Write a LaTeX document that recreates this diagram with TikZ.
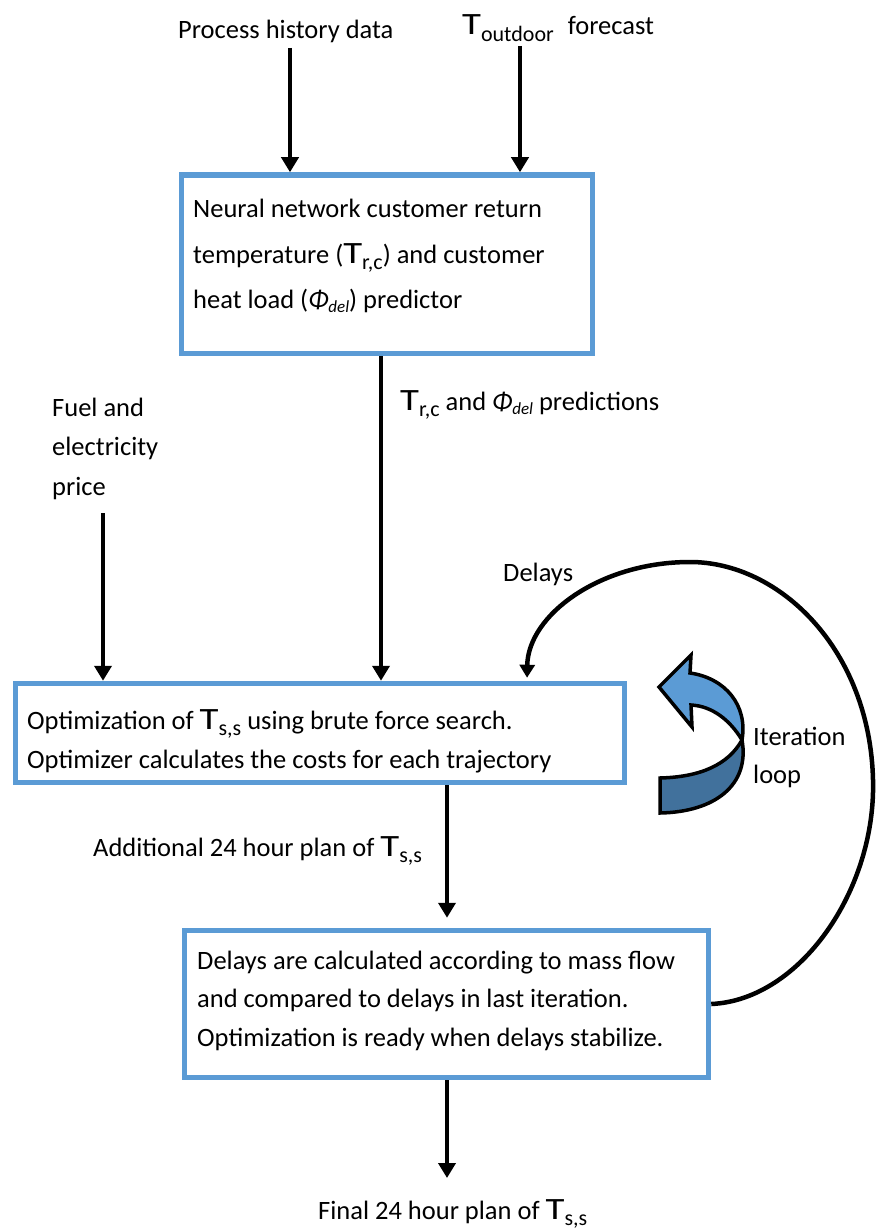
\documentclass[tikz,border=0pt]{standalone}
\usepackage{fontspec}
\setmainfont{Carlito}
\usepackage{graphicx}
\usetikzlibrary{arrows.meta}
\definecolor{boxblue}{HTML}{5B9BD5}
\definecolor{loopdark}{HTML}{41719C}
\newcommand{\bigT}{{\fontsize{31}{31}\selectfont\scalebox{1.25}[1]{T}}}
\newcommand{\TS}[1]{\bigT\raisebox{-6.5pt}{\fontsize{22}{22}\selectfont #1}}
\newcommand{\Phidel}{\textit{Φ}\raisebox{-4pt}{\fontsize{17}{17}\selectfont\textit{del}}}
\begin{document}
\begin{tikzpicture}[x=1pt,y=-1pt,
  font=\fontsize{26.5}{38}\selectfont,
  box/.style={draw=boxblue, line width=5.5pt, inner sep=0pt},
  txt/.style={inner sep=0pt, anchor=base west, align=flush left},
  arr/.style={line width=4.5pt, -{Triangle[width=17pt,length=15pt]}},
  curvearr/.style={line width=4.5pt, -{Triangle[width=15pt,length=13pt]}},
  loopshape/.style={draw=black, line width=3.5pt, line join=miter}]
\fill[white] (0,0) rectangle (875,1230);
\useasboundingbox (0,0) rectangle (875,1230);

% boxes
\node[box, minimum width=411pt, minimum height=178.5pt] (nnbox) at (387,264.25) {};
\node[box, minimum width=609pt, minimum height=99pt] (optbox) at (320,733) {};
\node[box, minimum width=524pt, minimum height=147pt] (delbox) at (446.5,1004) {};

% box texts
\node[txt, text width=390pt, font=\fontsize{26.5}{45.5}\selectfont] (nntext) at (193,218)
  {Neural network customer return\\temperature (\TS{r,c}) and customer\\heat load (\Phidel) predictor};
\node[txt, text width=590pt, font=\fontsize{26.5}{39.5}\selectfont] (opttext) at (27,729)
  {Optimization of \TS{s,s} using brute force search.\\Optimizer calculates the costs for each trajectory};
\node[txt, text width=505pt, font=\fontsize{26.5}{38.5}\selectfont] (deltext) at (197,969)
  {Delays are calculated according to mass flow\\and compared to delays in last iteration.\\Optimization is ready when delays stabilize.};

% free labels
\node[txt] (hist) at (178,39) {Process history data};
\node[txt] (outdoor) at (462,35) {\TS{outdoor}\hspace{14pt}forecast};
\node[txt] (pred) at (400,410) {\TS{r,c} and \Phidel{} predictions};
\node[txt, text width=150pt, font=\fontsize{26.5}{39.5}\selectfont] (fuel) at (52,416) {Fuel and\\electricity\\price};
\node[txt] (delays) at (503,581) {Delays};
\node[txt, text width=120pt] (iter) at (753,745) {Iteration\\loop};
\node[txt] (addplan) at (93,856) {Additional 24 hour plan of \TS{s,s}};
\node[txt] (finalplan) at (318,1219) {Final 24 hour plan of \TS{s,s}};

% connectors
\coordinate (s1) at (290,48);
\coordinate (s2) at (520,46);
\coordinate (x3) at (381,0);
\coordinate (s4) at (103,513);
\coordinate (x5) at (447,0);
\coordinate (e6) at (447,1178);
\coordinate (x7) at (527,0);
\draw[arr] (s1) -- (s1 |- nnbox.north);
\draw[arr] (s2) -- (s2 |- nnbox.north);
\draw[arr] (x3 |- nnbox.south) -- (x3 |- optbox.north);
\draw[arr] (s4) -- (s4 |- optbox.north);
\draw[arr, shorten >=10pt] (x5 |- optbox.south) -- (x5 |- delbox.north);
\draw[arr] (x5 |- delbox.south) -- (e6);
\draw[curvearr, shorten >=3pt] (delbox.east) .. controls (800,1000) and (876,890) .. (873,780)
  .. controls (870,650) and (780,562) .. (690,562)
  .. controls (600,562) and (528,615) .. (x7 |- optbox.north);

% iteration loop block arrow
\filldraw[loopshape, fill=loopdark] (742,740) .. controls (728,765) and (700,777) .. (660,778)
  -- (660,813) .. controls (715,812) and (750,785) .. (742,740) -- cycle;
\filldraw[loopshape, fill=boxblue] (659,687) -- (691,655) -- (690,673)
  .. controls (725,678) and (748,705) .. (742,740)
  .. controls (730,720) and (712,706) .. (691,705) -- (692,727) -- cycle;
\end{tikzpicture}
\end{document}
